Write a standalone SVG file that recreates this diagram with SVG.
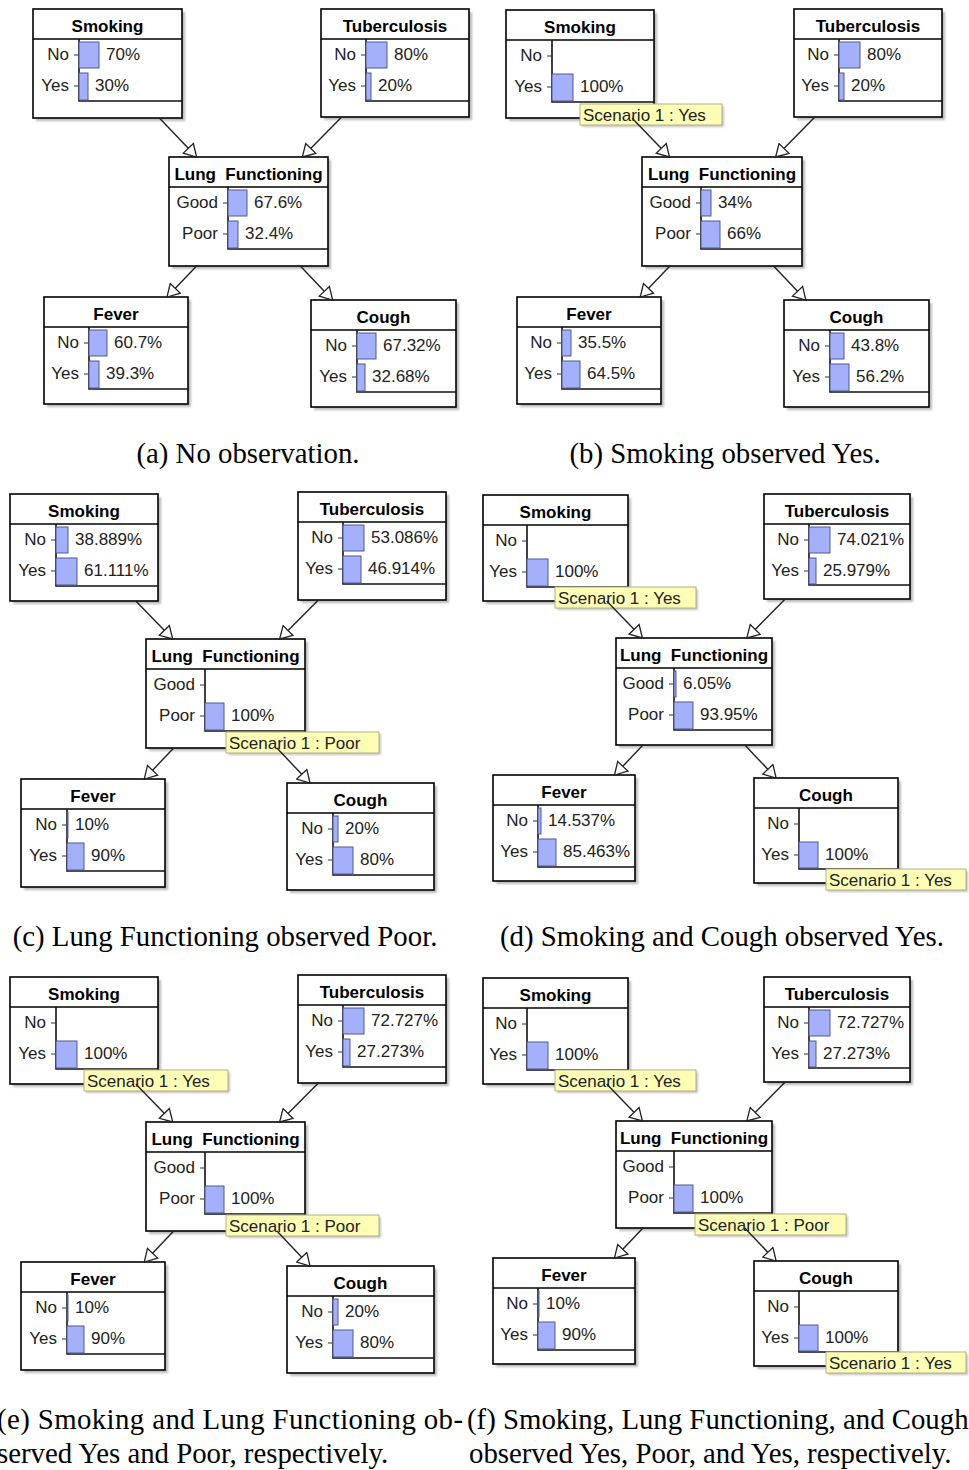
<svg xmlns="http://www.w3.org/2000/svg" width="969" height="1470" viewBox="0 0 969 1470">
<defs>
  <filter id="soft" x="-10%" y="-10%" width="130%" height="130%">
    <feGaussianBlur stdDeviation="1.2"/>
  </filter>
  <marker id="arr" markerWidth="16" markerHeight="16" refX="13" refY="8" orient="auto" markerUnits="userSpaceOnUse">
    <path d="M13,8 L1,1 L1,15 Z" fill="#fff" stroke="#222" stroke-width="1.3"/>
  </marker>
</defs>
<style>
  .sh{fill:#8c8c8c;opacity:.6;filter:url(#soft)}
  .box{fill:#fff;stroke:#000;stroke-width:1.6}
  .sep{fill:none;stroke:#000;stroke-width:1.4}
  .axis{fill:none;stroke:#111;stroke-width:1.6}
  .tick{fill:none;stroke:#333;stroke-width:1.2}
  .bar{fill:#a5b0fb;stroke:#4f5a8e;stroke-width:1}
  .title{font:bold 17px "Liberation Sans",Arial,sans-serif;text-anchor:middle;fill:#000}
  .lbl{font:17px "Liberation Sans",Arial,sans-serif;text-anchor:end;fill:#222}
  .val{font:17px "Liberation Sans",Arial,sans-serif;fill:#222}
  .evsh{fill:#8c8c8c;opacity:.5;filter:url(#soft)}
  .evbox{fill:#fdfdb6;stroke:#b1b186;stroke-width:1}
  .ev text{font:17px "Liberation Sans",Arial,sans-serif;fill:#222}
  .conn line{stroke:#222;stroke-width:1.4;marker-end:url(#arr)}
  .cap{font:28.8px "Liberation Serif","Times New Roman",serif;fill:#000}
</style>
<rect width="969" height="1470" fill="#fff"/>

<!-- ===== (a) ===== -->
<g id="a-smoking" transform="translate(33 9)">
  <rect class="sh" x="3" y="3" width="149" height="109"/><rect class="box" width="149" height="109"/>
  <path class="sep" d="M0 30H149"/><text class="title" x="74.5" y="22.5">Smoking</text>
  <path class="axis" d="M46 30V92H149"/><path class="tick" d="M41 46H46M41 77H46"/>
  <text class="lbl" x="36" y="51">No</text><text class="lbl" x="36" y="82">Yes</text>
  <rect class="bar" x="46" y="33" width="20" height="26"/><text class="val" x="73" y="51">70%</text>
  <rect class="bar" x="46" y="64" width="9" height="27"/><text class="val" x="62" y="82">30%</text>
</g>
<g id="a-tuberculosis" transform="translate(321 9)">
  <rect class="sh" x="3" y="3" width="148" height="108"/><rect class="box" width="148" height="108"/>
  <path class="sep" d="M0 30H148"/><text class="title" x="74" y="22.5">Tuberculosis</text>
  <path class="axis" d="M45 30V92H148"/><path class="tick" d="M40 46H45M40 77H45"/>
  <text class="lbl" x="35" y="51">No</text><text class="lbl" x="35" y="82">Yes</text>
  <rect class="bar" x="45" y="33" width="21" height="26"/><text class="val" x="73" y="51">80%</text>
  <rect class="bar" x="45" y="64" width="5" height="27"/><text class="val" x="57" y="82">20%</text>
</g>
<g id="a-lung" transform="translate(169 157)">
  <rect class="sh" x="3" y="3" width="159" height="109"/><rect class="box" width="159" height="109"/>
  <path class="sep" d="M0 30H159"/><text class="title" x="79.5" y="22.5" xml:space="preserve">Lung  Functioning</text>
  <path class="axis" d="M59 30V92H159"/><path class="tick" d="M54 46H59M54 77H59"/>
  <text class="lbl" x="49" y="51">Good</text><text class="lbl" x="49" y="82">Poor</text>
  <rect class="bar" x="59" y="33" width="19" height="26"/><text class="val" x="85" y="51">67.6%</text>
  <rect class="bar" x="59" y="64" width="10" height="27"/><text class="val" x="76" y="82">32.4%</text>
</g>
<g id="a-fever" transform="translate(44 297)">
  <rect class="sh" x="3" y="3" width="144" height="107"/><rect class="box" width="144" height="107"/>
  <path class="sep" d="M0 30H144"/><text class="title" x="72" y="22.5">Fever</text>
  <path class="axis" d="M45 30V92H144"/><path class="tick" d="M40 46H45M40 77H45"/>
  <text class="lbl" x="35" y="51">No</text><text class="lbl" x="35" y="82">Yes</text>
  <rect class="bar" x="45" y="33" width="18" height="26"/><text class="val" x="70" y="51">60.7%</text>
  <rect class="bar" x="45" y="64" width="10" height="27"/><text class="val" x="62" y="82">39.3%</text>
</g>
<g id="a-cough" transform="translate(311 300)">
  <rect class="sh" x="3" y="3" width="145" height="107"/><rect class="box" width="145" height="107"/>
  <path class="sep" d="M0 30H145"/><text class="title" x="72.5" y="22.5">Cough</text>
  <path class="axis" d="M46 30V92H145"/><path class="tick" d="M41 46H46M41 77H46"/>
  <text class="lbl" x="36" y="51">No</text><text class="lbl" x="36" y="82">Yes</text>
  <rect class="bar" x="46" y="33" width="19" height="26"/><text class="val" x="72" y="51">67.32%</text>
  <rect class="bar" x="46" y="64" width="8" height="27"/><text class="val" x="61" y="82">32.68%</text>
</g>

<!-- ===== (b) ===== -->
<g id="b-smoking" transform="translate(506 10)">
  <rect class="sh" x="3" y="3" width="148" height="108"/><rect class="box" width="148" height="108"/>
  <path class="sep" d="M0 30H148"/><text class="title" x="74" y="22.5">Smoking</text>
  <path class="axis" d="M46 30V92H148"/><path class="tick" d="M41 46H46M41 77H46"/>
  <text class="lbl" x="36" y="51">No</text><text class="lbl" x="36" y="82">Yes</text>
  <rect class="bar" x="46" y="64" width="21" height="27"/><text class="val" x="74" y="82">100%</text>
  <g class="ev" transform="translate(74 94)"><rect class="evsh" x="2" y="2" width="142" height="21"/><rect class="evbox" width="142" height="21"/><text x="3" y="16.5">Scenario 1 : Yes</text></g>
</g>
<g id="b-tuberculosis" transform="translate(794 9)">
  <rect class="sh" x="3" y="3" width="148" height="108"/><rect class="box" width="148" height="108"/>
  <path class="sep" d="M0 30H148"/><text class="title" x="74" y="22.5">Tuberculosis</text>
  <path class="axis" d="M45 30V92H148"/><path class="tick" d="M40 46H45M40 77H45"/>
  <text class="lbl" x="35" y="51">No</text><text class="lbl" x="35" y="82">Yes</text>
  <rect class="bar" x="45" y="33" width="21" height="26"/><text class="val" x="73" y="51">80%</text>
  <rect class="bar" x="45" y="64" width="5" height="27"/><text class="val" x="57" y="82">20%</text>
</g>
<g id="b-lung" transform="translate(642 157)">
  <rect class="sh" x="3" y="3" width="160" height="109"/><rect class="box" width="160" height="109"/>
  <path class="sep" d="M0 30H160"/><text class="title" x="80" y="22.5" xml:space="preserve">Lung  Functioning</text>
  <path class="axis" d="M59 30V92H160"/><path class="tick" d="M54 46H59M54 77H59"/>
  <text class="lbl" x="49" y="51">Good</text><text class="lbl" x="49" y="82">Poor</text>
  <rect class="bar" x="59" y="33" width="10" height="26"/><text class="val" x="76" y="51">34%</text>
  <rect class="bar" x="59" y="64" width="19" height="27"/><text class="val" x="85" y="82">66%</text>
</g>
<g id="b-fever" transform="translate(517 297)">
  <rect class="sh" x="3" y="3" width="144" height="107"/><rect class="box" width="144" height="107"/>
  <path class="sep" d="M0 30H144"/><text class="title" x="72" y="22.5">Fever</text>
  <path class="axis" d="M45 30V92H144"/><path class="tick" d="M40 46H45M40 77H45"/>
  <text class="lbl" x="35" y="51">No</text><text class="lbl" x="35" y="82">Yes</text>
  <rect class="bar" x="45" y="33" width="9" height="26"/><text class="val" x="61" y="51">35.5%</text>
  <rect class="bar" x="45" y="64" width="18" height="27"/><text class="val" x="70" y="82">64.5%</text>
</g>
<g id="b-cough" transform="translate(784 300)">
  <rect class="sh" x="3" y="3" width="145" height="107"/><rect class="box" width="145" height="107"/>
  <path class="sep" d="M0 30H145"/><text class="title" x="72.5" y="22.5">Cough</text>
  <path class="axis" d="M46 30V92H145"/><path class="tick" d="M41 46H46M41 77H46"/>
  <text class="lbl" x="36" y="51">No</text><text class="lbl" x="36" y="82">Yes</text>
  <rect class="bar" x="46" y="33" width="14" height="26"/><text class="val" x="67" y="51">43.8%</text>
  <rect class="bar" x="46" y="64" width="19" height="27"/><text class="val" x="72" y="82">56.2%</text>
</g>

<!-- ===== (c) ===== -->
<g id="c-smoking" transform="translate(10 494)">
  <rect class="sh" x="3" y="3" width="148" height="107"/><rect class="box" width="148" height="107"/>
  <path class="sep" d="M0 30H148"/><text class="title" x="74" y="22.5">Smoking</text>
  <path class="axis" d="M46 30V92H148"/><path class="tick" d="M41 46H46M41 77H46"/>
  <text class="lbl" x="36" y="51">No</text><text class="lbl" x="36" y="82">Yes</text>
  <rect class="bar" x="46" y="33" width="12" height="26"/><text class="val" x="65" y="51">38.889%</text>
  <rect class="bar" x="46" y="64" width="21" height="27"/><text class="val" x="74" y="82">61.111%</text>
</g>
<g id="c-tuberculosis" transform="translate(298 492)">
  <rect class="sh" x="3" y="3" width="148" height="108"/><rect class="box" width="148" height="108"/>
  <path class="sep" d="M0 30H148"/><text class="title" x="74" y="22.5">Tuberculosis</text>
  <path class="axis" d="M45 30V92H148"/><path class="tick" d="M40 46H45M40 77H45"/>
  <text class="lbl" x="35" y="51">No</text><text class="lbl" x="35" y="82">Yes</text>
  <rect class="bar" x="45" y="33" width="21" height="26"/><text class="val" x="73" y="51">53.086%</text>
  <rect class="bar" x="45" y="64" width="18" height="27"/><text class="val" x="70" y="82">46.914%</text>
</g>
<g id="c-lung" transform="translate(146 639)">
  <rect class="sh" x="3" y="3" width="159" height="109"/><rect class="box" width="159" height="109"/>
  <path class="sep" d="M0 30H159"/><text class="title" x="79.5" y="22.5" xml:space="preserve">Lung  Functioning</text>
  <path class="axis" d="M59 30V92H159"/><path class="tick" d="M54 46H59M54 77H59"/>
  <text class="lbl" x="49" y="51">Good</text><text class="lbl" x="49" y="82">Poor</text>
  <rect class="bar" x="59" y="64" width="19" height="27"/><text class="val" x="85" y="82">100%</text>
  <g class="ev" transform="translate(80 93)"><rect class="evsh" x="2" y="2" width="153" height="21"/><rect class="evbox" width="153" height="21"/><text x="3" y="16.5">Scenario 1 : Poor</text></g>
</g>
<g id="c-fever" transform="translate(21 779)">
  <rect class="sh" x="3" y="3" width="144" height="108"/><rect class="box" width="144" height="108"/>
  <path class="sep" d="M0 30H144"/><text class="title" x="72" y="22.5">Fever</text>
  <path class="axis" d="M46 30V92H144"/><path class="tick" d="M41 46H46M41 77H46"/>
  <text class="lbl" x="36" y="51">No</text><text class="lbl" x="36" y="82">Yes</text>
  <rect class="bar" x="46" y="33" width="1" height="26"/><text class="val" x="54" y="51">10%</text>
  <rect class="bar" x="46" y="64" width="17" height="27"/><text class="val" x="70" y="82">90%</text>
</g>
<g id="c-cough" transform="translate(287 783)">
  <rect class="sh" x="3" y="3" width="147" height="107"/><rect class="box" width="147" height="107"/>
  <path class="sep" d="M0 30H147"/><text class="title" x="73.5" y="22.5">Cough</text>
  <path class="axis" d="M46 30V92H147"/><path class="tick" d="M41 46H46M41 77H46"/>
  <text class="lbl" x="36" y="51">No</text><text class="lbl" x="36" y="82">Yes</text>
  <rect class="bar" x="46" y="33" width="5" height="26"/><text class="val" x="58" y="51">20%</text>
  <rect class="bar" x="46" y="64" width="20" height="27"/><text class="val" x="73" y="82">80%</text>
</g>

<!-- ===== (d) ===== -->
<g id="d-smoking" transform="translate(483 495)">
  <rect class="sh" x="3" y="3" width="145" height="106"/><rect class="box" width="145" height="106"/>
  <path class="sep" d="M0 30H145"/><text class="title" x="72.5" y="22.5">Smoking</text>
  <path class="axis" d="M44 30V92H145"/><path class="tick" d="M39 46H44M39 77H44"/>
  <text class="lbl" x="34" y="51">No</text><text class="lbl" x="34" y="82">Yes</text>
  <rect class="bar" x="44" y="64" width="21" height="27"/><text class="val" x="72" y="82">100%</text>
  <g class="ev" transform="translate(72 92)"><rect class="evsh" x="2" y="2" width="141" height="21"/><rect class="evbox" width="141" height="21"/><text x="3" y="16.5">Scenario 1 : Yes</text></g>
</g>
<g id="d-tuberculosis" transform="translate(764 494)">
  <rect class="sh" x="3" y="3" width="146" height="105"/><rect class="box" width="146" height="105"/>
  <path class="sep" d="M0 30H146"/><text class="title" x="73" y="22.5">Tuberculosis</text>
  <path class="axis" d="M45 30V91H146"/><path class="tick" d="M40 46H45M40 77H45"/>
  <text class="lbl" x="35" y="51">No</text><text class="lbl" x="35" y="82">Yes</text>
  <rect class="bar" x="45" y="33" width="21" height="26"/><text class="val" x="73" y="51">74.021%</text>
  <rect class="bar" x="45" y="64" width="7" height="26"/><text class="val" x="59" y="82">25.979%</text>
</g>
<g id="d-lung" transform="translate(616 638)">
  <rect class="sh" x="3" y="3" width="156" height="107"/><rect class="box" width="156" height="107"/>
  <path class="sep" d="M0 30H156"/><text class="title" x="78" y="22.5" xml:space="preserve">Lung  Functioning</text>
  <path class="axis" d="M58 30V92H156"/><path class="tick" d="M53 46H58M53 77H58"/>
  <text class="lbl" x="48" y="51">Good</text><text class="lbl" x="48" y="82">Poor</text>
  <rect class="bar" x="58" y="33" width="2" height="26"/><text class="val" x="67" y="51">6.05%</text>
  <rect class="bar" x="58" y="64" width="19" height="27"/><text class="val" x="84" y="82">93.95%</text>
</g>
<g id="d-fever" transform="translate(493 775)">
  <rect class="sh" x="3" y="3" width="142" height="106"/><rect class="box" width="142" height="106"/>
  <path class="sep" d="M0 30H142"/><text class="title" x="71" y="22.5">Fever</text>
  <path class="axis" d="M45 30V92H142"/><path class="tick" d="M40 46H45M40 77H45"/>
  <text class="lbl" x="35" y="51">No</text><text class="lbl" x="35" y="82">Yes</text>
  <rect class="bar" x="45" y="33" width="3" height="26"/><text class="val" x="55" y="51">14.537%</text>
  <rect class="bar" x="45" y="64" width="18" height="27"/><text class="val" x="70" y="82">85.463%</text>
</g>
<g id="d-cough" transform="translate(754 778)">
  <rect class="sh" x="3" y="3" width="144" height="105"/><rect class="box" width="144" height="105"/>
  <path class="sep" d="M0 30H144"/><text class="title" x="72" y="22.5">Cough</text>
  <path class="axis" d="M45 30V91H144"/><path class="tick" d="M40 46H45M40 77H45"/>
  <text class="lbl" x="35" y="51">No</text><text class="lbl" x="35" y="82">Yes</text>
  <rect class="bar" x="45" y="64" width="19" height="26"/><text class="val" x="71" y="82">100%</text>
  <g class="ev" transform="translate(72 91)"><rect class="evsh" x="2" y="2" width="140" height="21"/><rect class="evbox" width="140" height="21"/><text x="3" y="16.5">Scenario 1 : Yes</text></g>
</g>

<!-- ===== (e) ===== -->
<g id="e-smoking" transform="translate(10 977)">
  <rect class="sh" x="3" y="3" width="148" height="107"/><rect class="box" width="148" height="107"/>
  <path class="sep" d="M0 30H148"/><text class="title" x="74" y="22.5">Smoking</text>
  <path class="axis" d="M46 30V92H148"/><path class="tick" d="M41 46H46M41 77H46"/>
  <text class="lbl" x="36" y="51">No</text><text class="lbl" x="36" y="82">Yes</text>
  <rect class="bar" x="46" y="64" width="21" height="27"/><text class="val" x="74" y="82">100%</text>
  <g class="ev" transform="translate(74 93)"><rect class="evsh" x="2" y="2" width="144" height="21"/><rect class="evbox" width="144" height="21"/><text x="3" y="16.5">Scenario 1 : Yes</text></g>
</g>
<g id="e-tuberculosis" transform="translate(298 975)">
  <rect class="sh" x="3" y="3" width="148" height="108"/><rect class="box" width="148" height="108"/>
  <path class="sep" d="M0 30H148"/><text class="title" x="74" y="22.5">Tuberculosis</text>
  <path class="axis" d="M45 30V92H148"/><path class="tick" d="M40 46H45M40 77H45"/>
  <text class="lbl" x="35" y="51">No</text><text class="lbl" x="35" y="82">Yes</text>
  <rect class="bar" x="45" y="33" width="21" height="26"/><text class="val" x="73" y="51">72.727%</text>
  <rect class="bar" x="45" y="64" width="7" height="27"/><text class="val" x="59" y="82">27.273%</text>
</g>
<g id="e-lung" transform="translate(146 1122)">
  <rect class="sh" x="3" y="3" width="159" height="109"/><rect class="box" width="159" height="109"/>
  <path class="sep" d="M0 30H159"/><text class="title" x="79.5" y="22.5" xml:space="preserve">Lung  Functioning</text>
  <path class="axis" d="M59 30V92H159"/><path class="tick" d="M54 46H59M54 77H59"/>
  <text class="lbl" x="49" y="51">Good</text><text class="lbl" x="49" y="82">Poor</text>
  <rect class="bar" x="59" y="64" width="19" height="27"/><text class="val" x="85" y="82">100%</text>
  <g class="ev" transform="translate(80 93)"><rect class="evsh" x="2" y="2" width="153" height="21"/><rect class="evbox" width="153" height="21"/><text x="3" y="16.5">Scenario 1 : Poor</text></g>
</g>
<g id="e-fever" transform="translate(21 1262)">
  <rect class="sh" x="3" y="3" width="144" height="108"/><rect class="box" width="144" height="108"/>
  <path class="sep" d="M0 30H144"/><text class="title" x="72" y="22.5">Fever</text>
  <path class="axis" d="M46 30V92H144"/><path class="tick" d="M41 46H46M41 77H46"/>
  <text class="lbl" x="36" y="51">No</text><text class="lbl" x="36" y="82">Yes</text>
  <rect class="bar" x="46" y="33" width="1" height="26"/><text class="val" x="54" y="51">10%</text>
  <rect class="bar" x="46" y="64" width="17" height="27"/><text class="val" x="70" y="82">90%</text>
</g>
<g id="e-cough" transform="translate(287 1266)">
  <rect class="sh" x="3" y="3" width="147" height="107"/><rect class="box" width="147" height="107"/>
  <path class="sep" d="M0 30H147"/><text class="title" x="73.5" y="22.5">Cough</text>
  <path class="axis" d="M46 30V92H147"/><path class="tick" d="M41 46H46M41 77H46"/>
  <text class="lbl" x="36" y="51">No</text><text class="lbl" x="36" y="82">Yes</text>
  <rect class="bar" x="46" y="33" width="5" height="26"/><text class="val" x="58" y="51">20%</text>
  <rect class="bar" x="46" y="64" width="20" height="27"/><text class="val" x="73" y="82">80%</text>
</g>

<!-- ===== (f) ===== -->
<g id="f-smoking" transform="translate(483 978)">
  <rect class="sh" x="3" y="3" width="145" height="106"/><rect class="box" width="145" height="106"/>
  <path class="sep" d="M0 30H145"/><text class="title" x="72.5" y="22.5">Smoking</text>
  <path class="axis" d="M44 30V92H145"/><path class="tick" d="M39 46H44M39 77H44"/>
  <text class="lbl" x="34" y="51">No</text><text class="lbl" x="34" y="82">Yes</text>
  <rect class="bar" x="44" y="64" width="21" height="27"/><text class="val" x="72" y="82">100%</text>
  <g class="ev" transform="translate(72 92)"><rect class="evsh" x="2" y="2" width="141" height="21"/><rect class="evbox" width="141" height="21"/><text x="3" y="16.5">Scenario 1 : Yes</text></g>
</g>
<g id="f-tuberculosis" transform="translate(764 977)">
  <rect class="sh" x="3" y="3" width="146" height="105"/><rect class="box" width="146" height="105"/>
  <path class="sep" d="M0 30H146"/><text class="title" x="73" y="22.5">Tuberculosis</text>
  <path class="axis" d="M45 30V91H146"/><path class="tick" d="M40 46H45M40 77H45"/>
  <text class="lbl" x="35" y="51">No</text><text class="lbl" x="35" y="82">Yes</text>
  <rect class="bar" x="45" y="33" width="21" height="26"/><text class="val" x="73" y="51">72.727%</text>
  <rect class="bar" x="45" y="64" width="7" height="26"/><text class="val" x="59" y="82">27.273%</text>
</g>
<g id="f-lung" transform="translate(616 1121)">
  <rect class="sh" x="3" y="3" width="156" height="107"/><rect class="box" width="156" height="107"/>
  <path class="sep" d="M0 30H156"/><text class="title" x="78" y="22.5" xml:space="preserve">Lung  Functioning</text>
  <path class="axis" d="M58 30V92H156"/><path class="tick" d="M53 46H58M53 77H58"/>
  <text class="lbl" x="48" y="51">Good</text><text class="lbl" x="48" y="82">Poor</text>
  <rect class="bar" x="58" y="64" width="19" height="27"/><text class="val" x="84" y="82">100%</text>
  <g class="ev" transform="translate(79 93)"><rect class="evsh" x="2" y="2" width="151" height="21"/><rect class="evbox" width="151" height="21"/><text x="3" y="16.5">Scenario 1 : Poor</text></g>
</g>
<g id="f-fever" transform="translate(493 1258)">
  <rect class="sh" x="3" y="3" width="142" height="106"/><rect class="box" width="142" height="106"/>
  <path class="sep" d="M0 30H142"/><text class="title" x="71" y="22.5">Fever</text>
  <path class="axis" d="M45 30V92H142"/><path class="tick" d="M40 46H45M40 77H45"/>
  <text class="lbl" x="35" y="51">No</text><text class="lbl" x="35" y="82">Yes</text>
  <rect class="bar" x="45" y="33" width="1" height="26"/><text class="val" x="53" y="51">10%</text>
  <rect class="bar" x="45" y="64" width="17" height="27"/><text class="val" x="69" y="82">90%</text>
</g>
<g id="f-cough" transform="translate(754 1261)">
  <rect class="sh" x="3" y="3" width="144" height="105"/><rect class="box" width="144" height="105"/>
  <path class="sep" d="M0 30H144"/><text class="title" x="72" y="22.5">Cough</text>
  <path class="axis" d="M45 30V91H144"/><path class="tick" d="M40 46H45M40 77H45"/>
  <text class="lbl" x="35" y="51">No</text><text class="lbl" x="35" y="82">Yes</text>
  <rect class="bar" x="45" y="64" width="19" height="26"/><text class="val" x="71" y="82">100%</text>
  <g class="ev" transform="translate(72 91)"><rect class="evsh" x="2" y="2" width="140" height="21"/><rect class="evbox" width="140" height="21"/><text x="3" y="16.5">Scenario 1 : Yes</text></g>
</g>

<!-- connectors: parent -> child, clipped to the box edges along the centre line -->
<g id="connectors" class="conn">
  <line x1="159.4" y1="118" x2="196.6" y2="157"/>
  <line x1="341.7" y1="117" x2="302.3" y2="157"/>
  <line x1="196.6" y1="266" x2="167" y2="297"/>
  <line x1="300.3" y1="266" x2="332.6" y2="300"/>

  <line x1="632" y1="118" x2="669.5" y2="157"/>
  <line x1="814.9" y1="117" x2="775.6" y2="157"/>
  <line x1="669.9" y1="266" x2="640.2" y2="297"/>
  <line x1="773.6" y1="266" x2="805.8" y2="300"/>

  <line x1="135.8" y1="601" x2="172.7" y2="639"/>
  <line x1="318.4" y1="600" x2="279.6" y2="639"/>
  <line x1="173.7" y1="748" x2="144.3" y2="779"/>
  <line x1="276.9" y1="748" x2="310" y2="783"/>

  <line x1="606.7" y1="601" x2="642.4" y2="638"/>
  <line x1="785.2" y1="599" x2="746.8" y2="638"/>
  <line x1="643" y1="745" x2="614.5" y2="775"/>
  <line x1="744.8" y1="745" x2="776.1" y2="778"/>

  <line x1="135.8" y1="1084" x2="172.7" y2="1122"/>
  <line x1="318.4" y1="1083" x2="279.6" y2="1122"/>
  <line x1="173.7" y1="1231" x2="144.3" y2="1262"/>
  <line x1="276.9" y1="1231" x2="310" y2="1266"/>

  <line x1="606.7" y1="1084" x2="642.4" y2="1121"/>
  <line x1="785.2" y1="1082" x2="746.8" y2="1121"/>
  <line x1="643" y1="1228" x2="614.5" y2="1258"/>
  <line x1="744.8" y1="1228" x2="776.1" y2="1261"/>
</g>

<!-- sub-figure captions -->
<g id="captions" class="cap">
  <text x="248" y="463" text-anchor="middle">(a) No observation.</text>
  <text x="725" y="463" text-anchor="middle">(b) Smoking observed Yes.</text>
  <text x="225" y="946" text-anchor="middle">(c) Lung Functioning observed Poor.</text>
  <text x="722" y="946" text-anchor="middle">(d) Smoking and Cough observed Yes.</text>
  <text x="-3" y="1429" textLength="466" lengthAdjust="spacing">(e) Smoking and Lung Functioning ob-</text>
  <text x="-3" y="1463">served Yes and Poor, respectively.</text>
  <text x="467" y="1429">(f) Smoking, Lung Functioning, and Cough</text>
  <text x="469" y="1463">observed Yes, Poor, and Yes, respectively.</text>
</g>
</svg>
